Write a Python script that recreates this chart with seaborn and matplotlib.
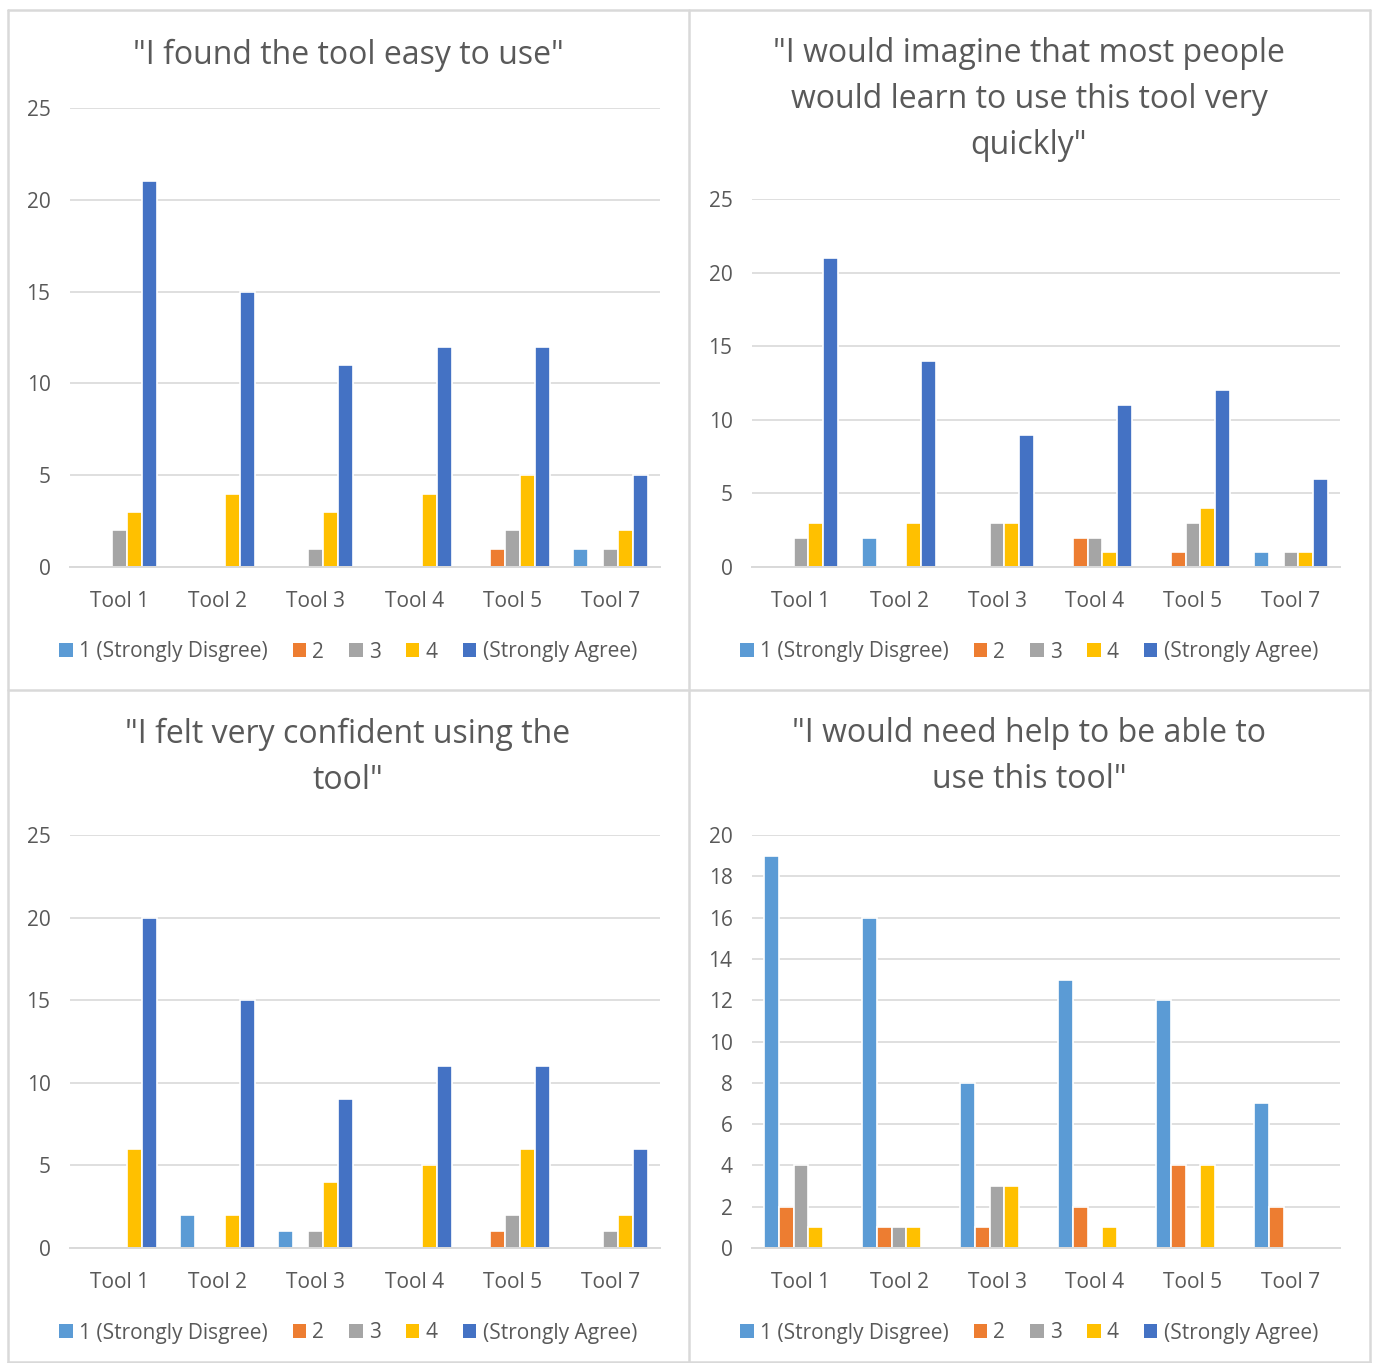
import pandas as pd
import seaborn as sns
import matplotlib.pyplot as plt
from matplotlib.patches import Patch
from matplotlib.lines import Line2D

# ---------------- data (counts) ----------------
tools = ['Tool 1', 'Tool 2', 'Tool 3', 'Tool 4', 'Tool 5', 'Tool 7']
ratings = ['1 (Strongly Disgree)', '2', '3', '4', '(Strongly Agree)']
colors = ['#5B9BD5', '#ED7D31', '#A5A5A5', '#FFC000', '#4472C4']

# one row per tool, columns = rating 1..5
easy_to_use = [[0, 0, 2, 3, 21],
               [0, 0, 0, 4, 15],
               [0, 0, 1, 3, 11],
               [0, 0, 0, 4, 12],
               [0, 1, 2, 5, 12],
               [1, 0, 1, 2, 5]]
learn_quickly = [[0, 0, 2, 3, 21],
                 [2, 0, 0, 3, 14],
                 [0, 0, 3, 3, 9],
                 [0, 2, 2, 1, 11],
                 [0, 1, 3, 4, 12],
                 [1, 0, 1, 1, 6]]
confident = [[0, 0, 0, 6, 20],
             [2, 0, 0, 2, 15],
             [1, 0, 1, 4, 9],
             [0, 0, 0, 5, 11],
             [0, 1, 2, 6, 11],
             [0, 0, 1, 2, 6]]
need_help = [[19, 2, 4, 1, 0],
             [16, 1, 1, 1, 0],
             [8, 1, 3, 3, 0],
             [13, 2, 0, 1, 0],
             [12, 4, 0, 4, 0],
             [7, 2, 0, 0, 0]]

titles = ['"I found the tool easy to use"',
          '"I would imagine that most people\nwould learn to use this tool very\nquickly"',
          '"I felt very confident using the\ntool"',
          '"I would need help to be able to\nuse this tool"']

sns.set_style('white')
plt.rcParams['font.family'] = ['Open Sans', 'DejaVu Sans']
TXT = '#595959'
GRID = '#D9D9D9'

W, H = 1375, 1363
fig = plt.figure(figsize=(W / 100, H / 100), dpi=100)


def long_df(rows):
    recs = []
    for t, vals in zip(tools, rows):
        for r, v in zip(ratings, vals):
            recs.append({'tool': t, 'rating': r, 'count': v})
    return pd.DataFrame(recs)


# pixel boxes: (left, top, right, bottom) of plot area
panels = [
    (easy_to_use, titles[0], (70, 108, 660, 567), 25, 5, (348, 55), 652),
    (learn_quickly, titles[1], (752, 199, 1340, 567), 25, 5, (1029, 100), 652),
    (confident, titles[2], (70, 835, 660, 1248), 25, 5, (348, 757), 1333),
    (need_help, titles[3], (752, 835, 1340, 1248), 20, 2, (1029, 757), 1333),
]

for rows, title, (l, t, r, b), ymax, step, (tx, ty), ly in panels:
    ax = fig.add_axes([l / W, 1 - b / H, (r - l) / W, (b - t) / H])
    df = long_df(rows)
    sns.barplot(data=df, x='tool', y='count', hue='rating', order=tools,
                hue_order=ratings, palette=colors, saturation=1, width=0.76,
                edgecolor='white', linewidth=1.2, legend=False, ax=ax)
    ax.set_ylim(0, ymax)
    ax.set_xlim(-0.5, len(tools) - 0.5)
    ax.set_yticks(range(0, ymax + 1, step))
    ax.yaxis.grid(True, color=GRID, lw=1.2)
    ax.set_axisbelow(True)
    for s in ['left', 'right', 'top']:
        ax.spines[s].set_visible(False)
    ax.spines['bottom'].set_color(GRID)
    ax.spines['bottom'].set_linewidth(1.4)
    ax.tick_params(axis='both', length=0, labelcolor=TXT, labelsize=15)
    ax.tick_params(axis='x', pad=17)
    ax.tick_params(axis='y', pad=14)
    ax.set_xlabel('')
    ax.set_ylabel('')

    fig.text(tx / W, 1 - ty / H, title, ha='center', va='center',
             fontsize=23, color=TXT, linespacing=1.52)

    handles = [Patch(facecolor=c, edgecolor='none') for c in colors]
    fig.legend(handles, ratings, loc='center', bbox_to_anchor=(tx / W, 1 - ly / H),
               ncol=5, frameon=False, fontsize=15, labelcolor=TXT,
               handlelength=0.65, handleheight=0.65, handletextpad=0.3,
               columnspacing=1.2)

# panel frames
for x0, y0, x1, y1 in [(8, 10, 1370, 10), (8, 1362, 1370, 1362),
                       (8, 10, 8, 1362), (1370, 10, 1370, 1362),
                       (689, 10, 689, 1362), (8, 690, 1370, 690)]:
    fig.add_artist(Line2D([x0 / W, x1 / W], [1 - y0 / H, 1 - y1 / H],
                          color=GRID, lw=1.8, transform=fig.transFigure))

fig.savefig('out.png', dpi=100)
